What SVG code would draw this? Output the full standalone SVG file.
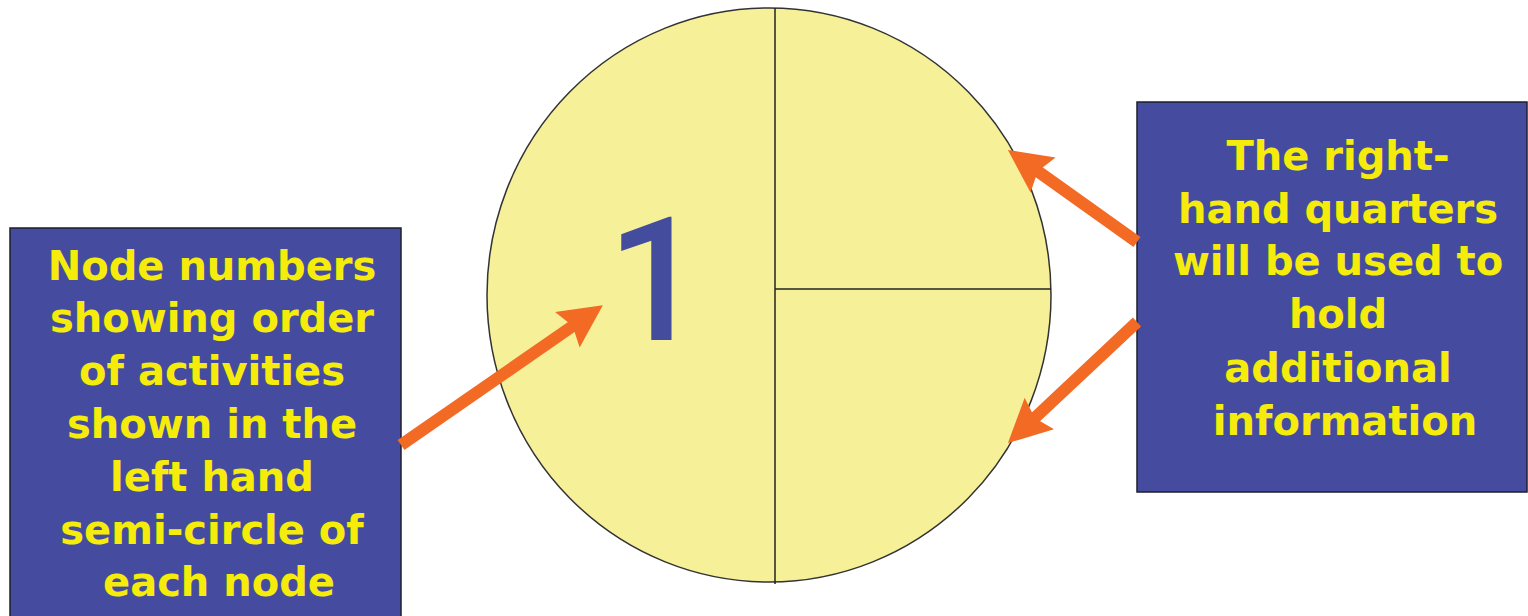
<svg xmlns="http://www.w3.org/2000/svg" width="1528" height="616" viewBox="0 0 1528 616">
<style>
.box{fill:#454c9f;stroke:#1e1e2e;stroke-width:1.5}
.lbl{fill:#f5ec0c;font-family:"DejaVu Sans",Verdana,sans-serif;font-weight:bold;font-size:40px;text-anchor:middle}
.num{fill:#444c9e;font-family:Roboto,"Noto Sans",sans-serif;font-weight:500;font-size:172px;text-anchor:middle}
.node{fill:#f6f199;stroke:#333;stroke-width:1.5}
.div{stroke:#222;stroke-width:1.5;fill:none}
.arr{stroke:#f26a23;stroke-width:12;fill:none;marker-end:url(#ah)}
</style>
<defs>
<marker id="ah" viewBox="0 0 10 10" refX="3" refY="5" markerWidth="3.6" markerHeight="3.6" markerUnits="strokeWidth" orient="auto">
<path d="M0,0 L10,5 L0,10 L1.5,5 z" fill="#f26a23"/>
</marker>
</defs>
<g id="node1">
<ellipse class="node" cx="769" cy="295" rx="282" ry="287"/>
<line class="div" x1="775" y1="8" x2="775" y2="584"/>
<line class="div" x1="775" y1="289" x2="1051" y2="289"/>
<text class="num" x="656" y="340">1</text>
</g>
<g id="left-note">
<rect class="box" x="10" y="228" width="391" height="400"/>
<text class="lbl">
<tspan x="219" y="280">Node numbers</tspan>
<tspan x="219" y="332">showing order</tspan>
<tspan x="219" y="385">of activities</tspan>
<tspan x="219" y="438">shown in the</tspan>
<tspan x="219" y="491">left hand</tspan>
<tspan x="219" y="544">semi-circle of</tspan>
<tspan x="219" y="596">each node</tspan>
</text>
</g>
<g id="right-note">
<rect class="box" x="1137" y="102" width="390" height="390"/>
<text class="lbl">
<tspan x="1345" y="170">The right-</tspan>
<tspan x="1345" y="223">hand quarters</tspan>
<tspan x="1345" y="275">will be used to</tspan>
<tspan x="1345" y="328">hold</tspan>
<tspan x="1345" y="382">additional</tspan>
<tspan x="1345" y="435">information</tspan>
</text>
</g>
<g id="connectors">
<line class="arr" x1="401" y1="445" x2="578" y2="322.4"/>
<line class="arr" x1="1137" y1="242" x2="1032.5" y2="167.5"/>
<line class="arr" x1="1137" y1="322" x2="1030" y2="422.4"/>
</g>
</svg>
